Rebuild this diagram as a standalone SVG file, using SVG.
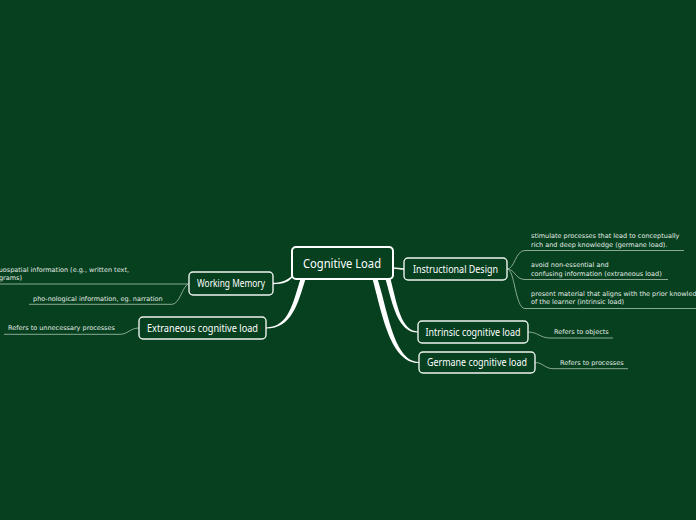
<svg xmlns="http://www.w3.org/2000/svg" width="696" height="520" viewBox="0 0 696 520">
<style>
.bg{fill:#06401f}
.node rect{fill:#06401f;stroke:#eef3ee;stroke-width:1.4}
.main rect{stroke:#ffffff;stroke-width:2}
.lbl{font-family:"Noto Sans","DejaVu Sans",sans-serif;fill:#ffffff;text-anchor:middle}
.leaf{font-family:"DejaVu Sans","Liberation Sans",sans-serif;font-size:6.5px;fill:#e4ece6}
.ll{fill:none;stroke:#8aa894;stroke-width:1}
.taper{fill:#ffffff}
.thin{fill:none;stroke:#eef3ee;stroke-width:1.3}
</style>
<rect class="bg" x="0" y="0" width="696" height="520"/>
<g id="connectors">
  <path class="taper" d="M295,272.5 C289,280 282,282.8 273,282.8 L273,284.2 C283,284.2 290,282 293,276 Z"/>
  <path class="taper" d="M300.5,279 C293,302 289,327.4 266,327.4 L266,328.6 C292,328.6 298,303 305.5,279 Z"/>
  <path class="thin" d="M393,268 C398,268 399,269 404,269"/>
  <path class="taper" d="M385.5,279 C393,306 398,332.6 418,332.6 L418,331.4 C401,331.4 397,304 390.5,279 Z"/>
  <path class="taper" d="M372.5,279 C382,313 390,363.1 419,363.1 L419,361.9 C394,361.9 388,311 377.5,279 Z"/>
  <path class="ll" d="M189,284 L0,284"/>
  <path class="ll" d="M189,284 C183,284 180,304.3 172,304.3 L29,304.3"/>
  <path class="ll" d="M139,328 C130,328 128,334.3 120,334.3 L4,334.3"/>
  <path class="ll" d="M507,269 C515,269 515,250.5 525,250.5 L684,250.5"/>
  <path class="ll" d="M507,269 C515,269 515,279.5 525,279.5 L668,279.5"/>
  <path class="ll" d="M507,269 C515,269 515,308.5 525,308.5 L700,308.5"/>
  <path class="ll" d="M528,332 C538,332 540,338 550,338 L613,338"/>
  <path class="ll" d="M535,362.5 C543,362.5 545,368.7 553,368.7 L628,368.7"/>
</g>
<g id="cognitive-load" class="node main">
  <rect x="292" y="247" width="101" height="32" rx="4"/>
  <text class="lbl" x="342" y="267.5" font-size="13" textLength="78" lengthAdjust="spacingAndGlyphs">Cognitive Load</text>
</g>
<g id="working-memory" class="node">
  <rect x="189" y="272" width="84" height="23" rx="4"/>
  <text class="lbl" x="231" y="287" font-size="10" textLength="68" lengthAdjust="spacingAndGlyphs">Working Memory</text>
</g>
<g id="extraneous" class="node">
  <rect x="139" y="317" width="127" height="22" rx="4"/>
  <text class="lbl" x="202.5" y="331.5" font-size="10" textLength="111" lengthAdjust="spacingAndGlyphs">Extraneous cognitive load</text>
</g>
<g id="instructional-design" class="node">
  <rect x="404" y="258" width="103" height="22" rx="4"/>
  <text class="lbl" x="455.5" y="272.5" font-size="10" textLength="85" lengthAdjust="spacingAndGlyphs">Instructional Design</text>
</g>
<g id="intrinsic" class="node">
  <rect x="418" y="321" width="110" height="22" rx="4"/>
  <text class="lbl" x="473" y="335.5" font-size="10" textLength="95" lengthAdjust="spacingAndGlyphs">Intrinsic cognitive load</text>
</g>
<g id="germane" class="node">
  <rect x="419" y="352" width="116" height="21" rx="4"/>
  <text class="lbl" x="477" y="366" font-size="10" textLength="100" lengthAdjust="spacingAndGlyphs">Germane cognitive load</text>
</g>
<g id="leaf-visuospatial">
  <text class="leaf" x="129" y="271.5" text-anchor="end">visuospatial information (e.g., written text,</text>
  <text class="leaf" x="22" y="280" text-anchor="end">diagrams)</text>
</g>
<g id="leaf-phonological">
  <text class="leaf" x="33" y="301">pho-nological information, eg. narration</text>
</g>
<g id="leaf-unnecessary">
  <text class="leaf" x="8" y="330">Refers to unnecessary processes</text>
</g>
<g id="leaf-germane-load">
  <text class="leaf" x="531" y="238">stimulate processes that lead to conceptually</text>
  <text class="leaf" x="531" y="246.5">rich and deep knowledge (germane load).</text>
</g>
<g id="leaf-extraneous-load">
  <text class="leaf" x="531" y="267">avoid non-essential and</text>
  <text class="leaf" x="531" y="275.5">confusing information (extraneous load)</text>
</g>
<g id="leaf-intrinsic-load">
  <text class="leaf" x="531" y="295.5">present material that aligns with the prior knowledge</text>
  <text class="leaf" x="531" y="304">of the learner (intrinsic load)</text>
</g>
<g id="leaf-objects">
  <text class="leaf" x="554" y="334">Refers to objects</text>
</g>
<g id="leaf-processes">
  <text class="leaf" x="560" y="364.5">Refers to processes</text>
</g>
</svg>
